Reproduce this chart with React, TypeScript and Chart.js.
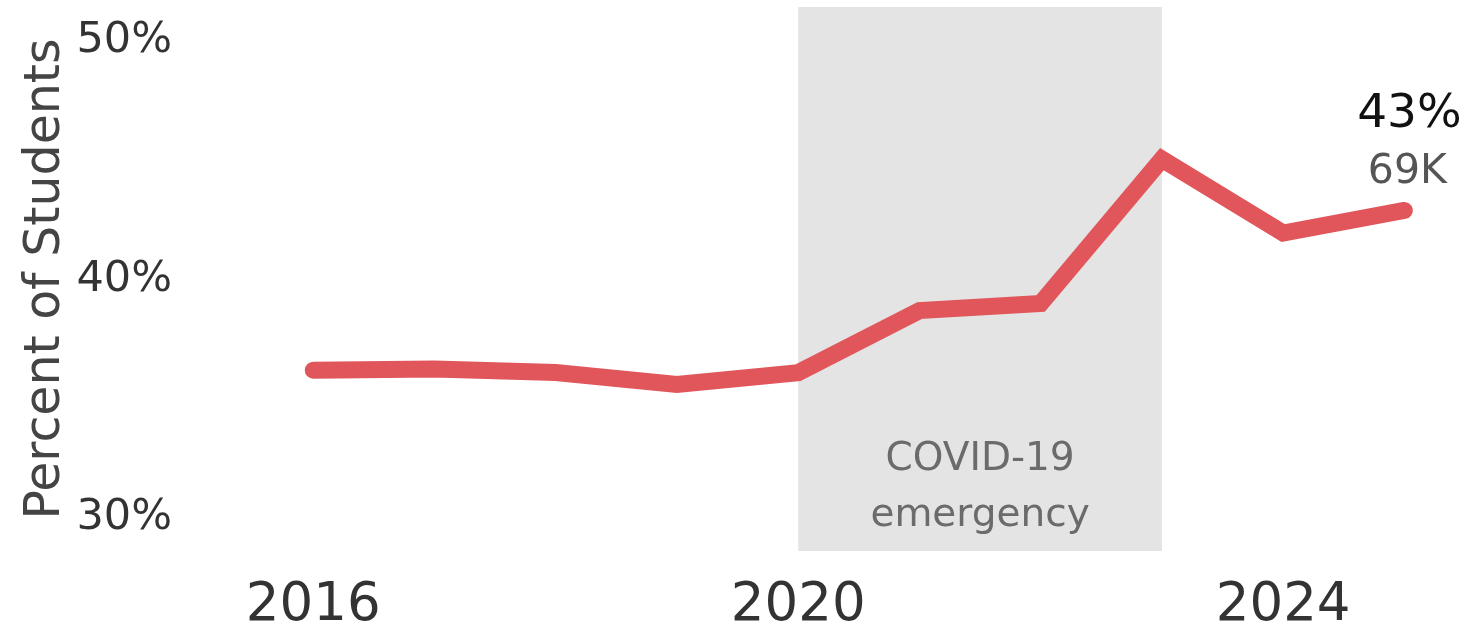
import React, { useEffect, useRef } from "react";
import { Chart, registerables } from "chart.js";

Chart.register(...registerables);

const years = [2016, 2017, 2018, 2019, 2020, 2021, 2022, 2023, 2024, 2025];
const percentValues = [36.2, 36.25, 36.1, 35.6, 36.1, 38.7, 39.0, 45.05, 41.95, 42.9];
const yTickValues = [30, 40, 50];
const xTickValues = [2016, 2020, 2024];
const covidStart = 2020;
const covidEnd = 2023;
const covidLabel = ["COVID-19", "emergency"];
const lastCountLabel = "69K";

const FONT = "'DejaVu Sans', sans-serif";

const bandPlugin = {
  id: "covidBand",
  beforeDatasetsDraw(chart: any) {
    const { ctx, chartArea, scales } = chart;
    const x0 = scales.x.getPixelForValue(covidStart);
    const x1 = scales.x.getPixelForValue(covidEnd);
    ctx.save();
    ctx.fillStyle = "#e4e4e4";
    ctx.fillRect(x0, chartArea.top, x1 - x0, chartArea.bottom - chartArea.top);
    ctx.fillStyle = "#6b6b6b";
    ctx.font = `39px ${FONT}`;
    ctx.textAlign = "center";
    ctx.textBaseline = "alphabetic";
    const cx = (x0 + x1) / 2;
    ctx.fillText(covidLabel[0], cx, chartArea.bottom - 81);
    ctx.fillText(covidLabel[1], cx, chartArea.bottom - 25);
    ctx.restore();
  },
  afterDatasetsDraw(chart: any) {
    const { ctx, scales } = chart;
    const i = years.length - 1;
    const px = scales.x.getPixelForValue(years[i]);
    const py = scales.y.getPixelForValue(percentValues[i]);
    ctx.save();
    ctx.textAlign = "center";
    ctx.textBaseline = "alphabetic";
    ctx.fillStyle = "#111111";
    ctx.font = `47px ${FONT}`;
    ctx.fillText(`${Math.round(percentValues[i])}%`, px + 5, py - 83);
    ctx.fillStyle = "#555555";
    ctx.font = `41px ${FONT}`;
    ctx.fillText(lastCountLabel, px + 3, py - 27);
    ctx.restore();
  },
};

export default function App() {
  const ref = useRef<HTMLCanvasElement | null>(null);

  useEffect(() => {
    document.body.style.margin = "0";
    if (!ref.current) return;
    const chart = new Chart(ref.current, {
      type: "line",
      data: {
        datasets: [
          {
            data: years.map((y, i) => ({ x: y, y: percentValues[i] })),
            borderColor: "#e0565b",
            borderWidth: 17,
            borderCapStyle: "round",
            borderJoinStyle: "miter",
            pointRadius: 0,
            tension: 0,
            fill: false,
          },
        ],
      },
      options: {
        animation: false,
        responsive: false,
        maintainAspectRatio: false,
        layout: { padding: { top: 7, right: 10, left: 0, bottom: 0 } },
        plugins: { legend: { display: false }, tooltip: { enabled: false } },
        scales: {
          x: {
            type: "linear",
            min: 2015,
            max: 2025.5,
            grid: { display: false },
            border: { display: false },
            afterBuildTicks: (scale: any) => {
              scale.ticks = xTickValues.map((v) => ({ value: v }));
            },
            afterFit: (scale: any) => {
              scale.height = 79;
              scale.paddingLeft = 0;
              scale.paddingRight = 0;
            },
            ticks: {
              font: { family: FONT, size: 53 },
              color: "#333333",
              padding: 15,
              maxRotation: 0,
              callback: (v: any) => String(v),
            },
          },
          y: {
            type: "linear",
            min: 28.62,
            max: 51.43,
            grid: { display: false },
            border: { display: false },
            afterBuildTicks: (scale: any) => {
              scale.ticks = yTickValues.map((v) => ({ value: v }));
            },
            afterFit: (scale: any) => {
              scale.width = 192;
              scale.paddingTop = 0;
              scale.paddingBottom = 0;
            },
            ticks: {
              font: { family: FONT, size: 43 },
              color: "#333333",
              padding: 12,
              callback: (v: any) => `${v}%`,
            },
            title: {
              display: true,
              text: "Percent of Students",
              font: { family: FONT, size: 49 },
              color: "#444444",
              padding: { top: 17, bottom: 0 },
            },
          },
        },
      },
      plugins: [bandPlugin],
    } as any);
    return () => chart.destroy();
  }, []);

  return (
    <div style={{ width: 1475, height: 630 }}>
      <canvas ref={ref} width={1475} height={630} style={{ display: "block" }} />
    </div>
  );
}
